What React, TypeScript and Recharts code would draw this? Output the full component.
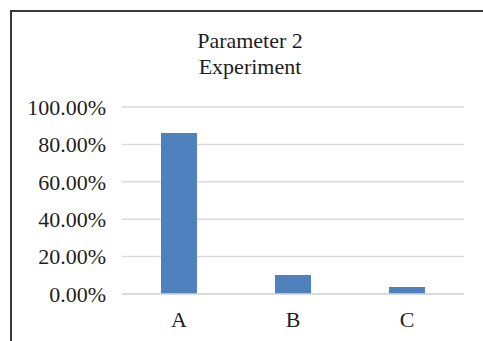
import React from 'react';
import { BarChart, Bar, XAxis, YAxis, CartesianGrid } from 'recharts';

const categories = ['A', 'B', 'C'];
const values = [0.861, 0.102, 0.037];
const yTicks = [0, 0.2, 0.4, 0.6, 0.8, 1.0];
const titleLines = ['Parameter 2', 'Experiment'];

const data = categories.map((c, i) => ({ name: c, value: values[i] }));

const FONT = '"Liberation Serif", "Times New Roman", serif';
const TEXT = '#1e1e1e';

export default function App() {
  return (
    <div style={{ position: 'absolute', left: 0, top: 0, width: 483, height: 341, background: '#fff', overflow: 'hidden' }}>
      <div
        style={{
          position: 'absolute',
          left: 10,
          top: 10,
          width: 480,
          height: 340,
          borderTop: '2px solid #3a3a3a',
          borderLeft: '2px solid #3a3a3a',
          boxSizing: 'border-box',
        }}
      />
      <svg width={483} height={341} style={{ position: 'absolute', left: 0, top: 0 }}>
        {titleLines.map((t, i) => (
          <text
            key={t}
            x={250}
            y={48 + i * 26}
            textAnchor="middle"
            fontFamily={FONT}
            fontSize={22}
            fill={TEXT}
          >
            {t}
          </text>
        ))}
      </svg>
      <div style={{ position: 'absolute', left: 0, top: 0 }}>
        <BarChart
          width={483}
          height={341}
          data={data}
          margin={{ top: 107, right: 19, bottom: 17, left: 0 }}
          barSize={36}
        >
          <CartesianGrid vertical={false} stroke="#D9D9D9" strokeWidth={1.5} />
          <XAxis
            dataKey="name"
            axisLine={{ stroke: '#D9D9D9', strokeWidth: 1.5 }}
            tickLine={false}
            tickSize={0}
            tickMargin={17}
            height={30}
            tick={{ fontFamily: FONT, fontSize: 22, fill: TEXT }}
          />
          <YAxis
            domain={[0, 1]}
            ticks={yTicks}
            width={122}
            axisLine={false}
            tickLine={false}
            tickSize={0}
            tickMargin={16}
            interval={0}
            tickFormatter={(v: number) => (v * 100).toFixed(2) + '%'}
            tick={{ fontFamily: FONT, fontSize: 22, fill: TEXT }}
          />
          <Bar dataKey="value" fill="#4F81BD" isAnimationActive={false} />
        </BarChart>
      </div>
    </div>
  );
}
